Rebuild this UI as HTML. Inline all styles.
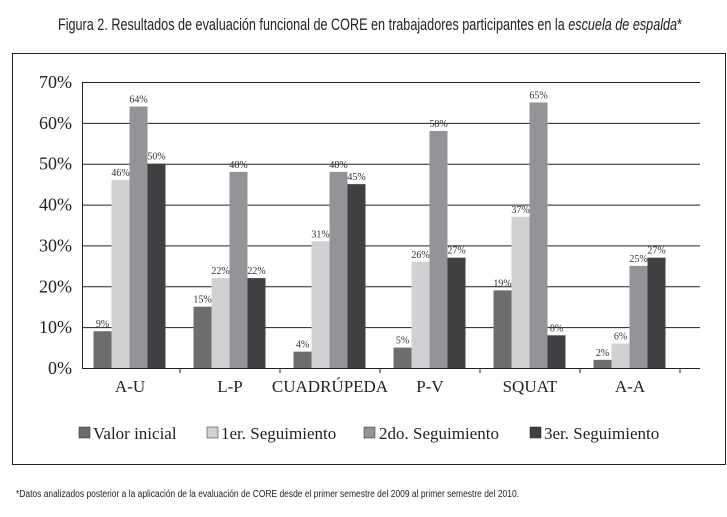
<!DOCTYPE html>
<html><head><meta charset="utf-8"><style>
body{margin:0;background:#fff;width:727px;height:512px;overflow:hidden;font-family:"Liberation Serif",serif}
</style></head><body>
<svg width="727" height="512" xmlns="http://www.w3.org/2000/svg">
<text x="370" y="30" text-anchor="middle" font-family="Liberation Sans Narrow, Liberation Sans, sans-serif" font-size="17" fill="#222" textLength="624" lengthAdjust="spacingAndGlyphs">Figura 2. Resultados de evaluación funcional de CORE en trabajadores participantes en la <tspan font-style="italic">escuela de espalda</tspan>*</text>
<rect x="12.5" y="53.5" width="713" height="411" fill="none" stroke="#222" stroke-width="1"/>
<g id="grid"></g>
<g id="bars"></g>
<g id="axes"></g>
<g font-size="17" fill="#222">
<rect x="79" y="427" width="11" height="11" fill="#6d6d6f" stroke="#222" stroke-width="0.5"/>
<text x="93" y="439">Valor inicial</text>
<rect x="207" y="427" width="11" height="11" fill="#d0d1d3" stroke="#222" stroke-width="0.5"/>
<text x="221" y="439">1er. Seguimiento</text>
<rect x="364" y="427" width="11" height="11" fill="#939497" stroke="#222" stroke-width="0.5"/>
<text x="379" y="439">2do. Seguimiento</text>
<rect x="530" y="427" width="11" height="11" fill="#404042" stroke="#222" stroke-width="0.5"/>
<text x="544" y="439">3er. Seguimiento</text>
</g>
<text x="16" y="497" font-family="Liberation Sans Narrow, Liberation Sans, sans-serif" font-size="10" fill="#222" textLength="503" lengthAdjust="spacingAndGlyphs">*Datos analizados posterior a la aplicación de la evaluación de CORE desde el primer semestre del 2009 al primer semestre del 2010.</text>
</svg>
<script>
const categories=["A-U","L-P","CUADRÚPEDA","P-V","SQUAT","A-A"];
const valorInicial=[9,15,4,5,19,2];
const seguimiento1=[46,22,31,26,37,6];
const seguimiento2=[64,48,48,58,65,25];
const seguimiento3=[50,22,45,27,8,27];
const yTicks=[0,10,20,30,40,50,60,70];
const series=[valorInicial,seguimiento1,seguimiento2,seguimiento3];
const colors=["#6d6d6f","#d0d1d3","#939497","#404042"];
const NS="http://www.w3.org/2000/svg";
const x0=82,x1=700,yBase=368,yTop=82,groupW=100,barW=18;
const y=v=>yBase-(v/70)*(yBase-yTop);
const cx=i=>130+i*groupW;
function mk(t,a,p){const e=document.createElementNS(NS,t);for(const k in a)e.setAttribute(k,a[k]);p.appendChild(e);return e;}
const grid=document.getElementById('grid'),bars=document.getElementById('bars'),axes=document.getElementById('axes');
yTicks.forEach(t=>{
 if(t>0){const l=mk('line',{x1:x0,x2:x1,y1:y(t)+0.5,y2:y(t)+0.5,stroke:'#222','stroke-width':1},grid);
 
 }
 const tx=mk('text',{x:72,y:y(t)+6,'text-anchor':'end','font-size':18,fill:'#222'},axes);
 tx.textContent=t+'%';
 
 
});
series.forEach((s,si)=>{
 s.forEach((v,i)=>{
  const bx=cx(i)-36.5+si*barW;
  const r=mk('rect',{x:bx,y:y(v),width:barW,height:yBase-y(v),fill:colors[si]},bars);
  
  
  const t=mk('text',{x:bx+barW/2,y:y(v)-4,'text-anchor':'middle','font-size':10,fill:'#333'},bars);
  t.textContent=v+'%';
  
  
 });
});
const ax=mk('line',{x1:x0+0.5,x2:x0+0.5,y1:yTop,y2:yBase,stroke:'#222','stroke-width':1},axes);


const bx=mk('line',{x1:x0,x2:x1,y1:yBase+0.5,y2:yBase+0.5,stroke:'#222','stroke-width':1},axes);


categories.forEach((c,i)=>{
 const tk=mk('line',{x1:cx(i)+50,x2:cx(i)+50,y1:yBase,y2:yBase+5,stroke:'#222'},axes);
 
 
 const t=mk('text',{x:cx(i),y:392,'text-anchor':'middle','font-size':17,fill:'#222'},axes);
 t.textContent=c;
 
 
});
</script>
</body></html>
